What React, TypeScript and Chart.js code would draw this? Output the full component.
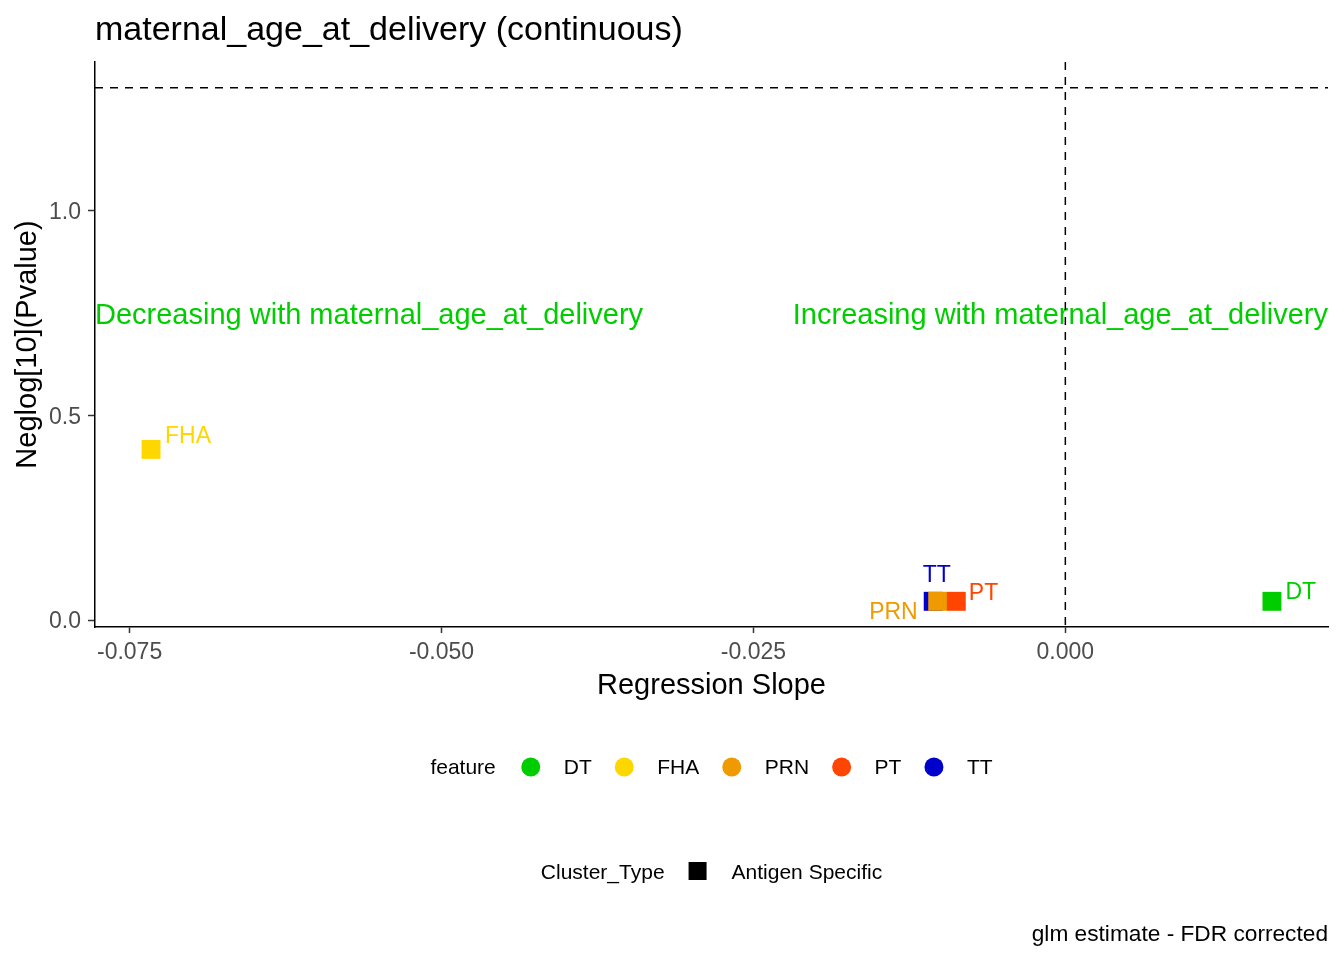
import React, { useEffect, useRef } from "react";
import { Chart, registerables } from "chart.js";

Chart.register(...registerables);

// ---- data ----
const FEATURES = ["DT", "FHA", "PRN", "PT", "TT"];
const SLOPES = [0.01656, -0.07328, -0.01023, -0.00874, -0.01059];
const NEGLOG_P = [0.0457, 0.417, 0.0457, 0.0457, 0.0457];
const FEATURE_COLORS = ["#00CD00", "#FFD700", "#EE9A00", "#FF4500", "#0000CD"];
const DRAW_ORDER = [1, 2, 4, 3, 5]; // lower = drawn on top
const X_TICKS = [-0.075, -0.05, -0.025, 0];
const Y_TICKS = [0, 0.5, 1.0];
const SIG_THRESHOLD = 1.30103; // -log10(0.05)
const SLOPE_ZERO = 0;
const ANNOT_Y = 0.75;

const TITLE = "maternal_age_at_delivery (continuous)";
const X_TITLE = "Regression Slope";
const Y_TITLE = "Neglog[10](Pvalue)";
const ANNOT_LEFT = "Decreasing with maternal_age_at_delivery";
const ANNOT_RIGHT = "Increasing with maternal_age_at_delivery";
const LEGEND_TITLE = "feature";
const SHAPE_TITLE = "Cluster_Type";
const SHAPE_LABELS = ["Antigen Specific"];
const CAPTION = "glm estimate - FDR corrected";

// label nudges (styling, px): [dx, dy, align]
const LABEL_STYLE: Record<string, [number, number, CanvasTextAlign]> = {
  DT: [13.5, -2, "left"],
  FHA: [14, -6, "left"],
  PRN: [-20, 18, "right"],
  PT: [12.5, -1, "left"],
  TT: [3.5, -19, "center"],
};

const FONT = '"Liberation Sans", Arial, sans-serif';
const W = 1344;
const H = 960;

function expandRange(vals: number[]): [number, number] {
  const lo = Math.min(...vals);
  const hi = Math.max(...vals);
  const pad = (hi - lo) * 0.05;
  return [lo - pad, hi + pad];
}

const [X_MIN, X_MAX] = expandRange([...SLOPES, SLOPE_ZERO]);
const [Y_MIN, Y_MAX] = expandRange([...NEGLOG_P, SIG_THRESHOLD]);

const decorPlugin = {
  id: "decor",
  beforeDatasetsDraw(chart: any) {
    const { ctx, chartArea, scales } = chart;
    const ya = scales.y.getPixelForValue(ANNOT_Y);
    ctx.save();
    ctx.font = `29px ${FONT}`;
    ctx.fillStyle = "#00CD00";
    ctx.textBaseline = "alphabetic";
    ctx.textAlign = "left";
    ctx.fillText(ANNOT_LEFT, chartArea.left, ya + 10.5);
    ctx.textAlign = "right";
    ctx.fillText(ANNOT_RIGHT, chartArea.right, ya + 10.5);

    // dashed reference lines
    ctx.strokeStyle = "#000";
    ctx.lineWidth = 1.5;
    ctx.setLineDash([8, 7]);
    const hy = scales.y.getPixelForValue(SIG_THRESHOLD);
    ctx.beginPath();
    ctx.moveTo(chartArea.left, hy);
    ctx.lineTo(chartArea.right, hy);
    ctx.stroke();
    const vx = scales.x.getPixelForValue(SLOPE_ZERO);
    ctx.beginPath();
    ctx.moveTo(vx, chartArea.top);
    ctx.lineTo(vx, chartArea.bottom);
    ctx.stroke();
    ctx.restore();
  },
  afterDatasetsDraw(chart: any) {
    const { ctx } = chart;
    ctx.save();
    ctx.font = `23px ${FONT}`;
    ctx.textBaseline = "alphabetic";
    FEATURES.forEach((f, i) => {
      const pt = chart.getDatasetMeta(i).data[0];
      const [dx, dy, align] = LABEL_STYLE[f];
      ctx.fillStyle = FEATURE_COLORS[i];
      ctx.textAlign = align;
      ctx.fillText(f, pt.x + dx, pt.y + dy);
    });
    ctx.restore();
  },
  afterDraw(chart: any) {
    const { ctx, chartArea } = chart;
    const cx = (chartArea.left + chartArea.right) / 2;
    ctx.save();
    ctx.textBaseline = "alphabetic";
    // title
    ctx.fillStyle = "#000";
    ctx.font = `34px ${FONT}`;
    ctx.textAlign = "left";
    ctx.fillText(TITLE, chartArea.left, 40);
    // x title
    ctx.font = `29px ${FONT}`;
    ctx.textAlign = "center";
    ctx.fillText(X_TITLE, cx, 694);
    // y title
    ctx.save();
    ctx.translate(36, (chartArea.top + chartArea.bottom) / 2);
    ctx.rotate(-Math.PI / 2);
    ctx.fillText(Y_TITLE, 0, 0);
    ctx.restore();

    // legend 1: feature
    ctx.font = `21px ${FONT}`;
    ctx.textAlign = "left";
    const r1 = 767;
    const base1 = r1 + 7;
    const featW = ctx.measureText(LEGEND_TITLE).width;
    const labW = FEATURES.map((f) => ctx.measureText(f).width);
    const total =
      featW + 35 + labW.reduce((a, b) => a + b + 33, 0) + 32.5 * (FEATURES.length - 1);
    let x = cx - total / 2;
    ctx.fillStyle = "#000";
    ctx.fillText(LEGEND_TITLE, x, base1);
    x += featW + 35;
    FEATURES.forEach((f, i) => {
      ctx.fillStyle = FEATURE_COLORS[i];
      ctx.beginPath();
      ctx.arc(x, r1, 9.5, 0, Math.PI * 2);
      ctx.fill();
      ctx.fillStyle = "#000";
      ctx.fillText(f, x + 33, base1);
      x += 33 + labW[i] + 32.5;
    });

    // legend 2: shape
    const r2 = 871;
    const base2 = r2 + 7.5;
    const stW = ctx.measureText(SHAPE_TITLE).width;
    const slW = ctx.measureText(SHAPE_LABELS[0]).width;
    const total2 = stW + 33 + 34 + slW;
    let x2 = cx - total2 / 2;
    ctx.fillText(SHAPE_TITLE, x2, base2);
    x2 += stW + 33;
    ctx.fillRect(x2 - 9, r2 - 9, 18, 18);
    ctx.fillText(SHAPE_LABELS[0], x2 + 34, base2);

    // caption
    ctx.font = `22.7px ${FONT}`;
    ctx.textAlign = "right";
    ctx.fillText(CAPTION, chartArea.right, 941);
    ctx.restore();
  },
};

export default function App() {
  const ref = useRef<HTMLCanvasElement | null>(null);
  useEffect(() => {
    document.body.style.margin = "0";
    const canvas = ref.current!;
    const chart = new Chart(canvas, {
      type: "scatter",
      data: {
        datasets: FEATURES.map((f, i) => ({
          label: f,
          data: [{ x: SLOPES[i], y: NEGLOG_P[i] }],
          backgroundColor: FEATURE_COLORS[i],
          borderWidth: 0,
          pointStyle: "rect",
          pointRadius: 13.4,
          pointHoverRadius: 13.4,
          order: DRAW_ORDER[i],
        })),
      },
      options: {
        responsive: false,
        devicePixelRatio: 1,
        animation: false,
        events: [],
        layout: { padding: { left: 0, top: 62, right: 16, bottom: 0 } },
        plugins: {
          legend: { display: false },
          tooltip: { enabled: false },
          title: { display: false },
        },
        scales: {
          x: {
            type: "linear",
            min: X_MIN,
            max: X_MAX,
            afterFit: (s: any) => {
              s.height = 333;
            },
            afterBuildTicks: (s: any) => {
              s.ticks = X_TICKS.map((v) => ({ value: v }));
            },
            ticks: {
              autoSkip: false,
              maxRotation: 0,
              padding: 6,
              color: "#4D4D4D",
              font: { family: FONT, size: 23 },
              callback: (v: any) => Number(v).toFixed(3),
            },
            grid: {
              drawOnChartArea: false,
              drawTicks: true,
              tickLength: 6,
              tickColor: "#333333",
              tickWidth: 1.5,
            },
            border: { display: true, color: "#000", width: 1.5 },
          },
          y: {
            type: "linear",
            min: Y_MIN,
            max: Y_MAX,
            afterFit: (s: any) => {
              s.width = 95;
            },
            afterBuildTicks: (s: any) => {
              s.ticks = Y_TICKS.map((v) => ({ value: v }));
            },
            ticks: {
              autoSkip: false,
              padding: 7,
              labelOffset: 2,
              color: "#4D4D4D",
              font: { family: FONT, size: 23 },
              callback: (v: any) => Number(v).toFixed(1),
            },
            grid: {
              drawOnChartArea: false,
              drawTicks: true,
              tickLength: 7,
              tickColor: "#333333",
              tickWidth: 1.5,
            },
            border: { display: true, color: "#000", width: 1.5 },
          },
        },
      },
      plugins: [decorPlugin],
    } as any);
    return () => chart.destroy();
  }, []);
  return (
    <div style={{ position: "absolute", left: 0, top: 0, width: W, height: H, background: "#fff" }}>
      <canvas ref={ref} width={W} height={H} style={{ width: W, height: H, display: "block" }} />
    </div>
  );
}
